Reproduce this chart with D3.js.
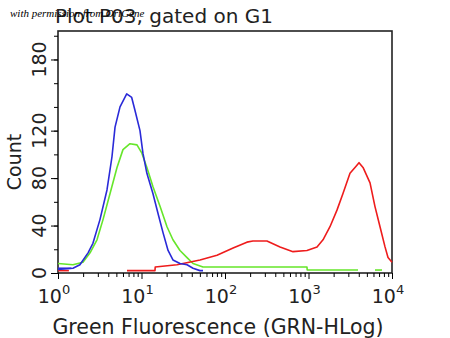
<!DOCTYPE html>
<html>
<head>
<meta charset="utf-8">
<script src="https://cdn.jsdelivr.net/npm/d3@7"></script>
<style>
  body { margin: 0; background: #fff; }
  svg { display: block; }
</style>
</head>
<body>
<div id="chart"></div>
<script>
var width = 450,
    height = 338;

// histogram traces: fluorescence value (log axis) and count
var blueX = [1, 1.51, 1.83, 2.29, 2.62, 3.18, 3.86, 4.43, 4.82, 5.53, 6.65, 7.63, 8.36, 9.59, 10.4, 11.6, 13.7, 15.8, 18.1, 20.8, 23.8, 28.9, 35.1, 41.4, 50.2, 54.5];
var blueY = [3, 4, 7, 17, 25, 45, 70, 98, 123, 140, 151, 148, 137, 120, 101, 84, 67, 50, 34, 19, 11, 8, 7, 4, 2, 2];

var greenX = [1, 1.51, 1.99, 2.42, 2.93, 3.46, 4.20, 5.09, 6.00, 7.28, 8.83, 10.1, 11.6, 13.7, 16.7, 20.2, 23.8, 28.9, 35.1, 41.4, 54.5, 87.1, 959, 965, 3917];
var greenY = [8, 7, 9, 17, 28, 45, 67, 89, 104, 109, 108, 101, 89, 73, 56, 39, 28, 19, 13, 8, 5, 5, 5, 2.5, 2.5];
var greenX2 = [6256, 7590];
var greenY2 = [2.5, 2.5];

var redX = [6.70, 14.5, 14.6, 26.6, 50.2, 80.2, 125, 183, 216, 318, 456, 652, 959, 1265, 1492, 1808, 2193, 2588, 3140, 3605, 4027, 4498, 5456, 6256, 7185, 8250, 8960, 10000];
var redY = [2, 2, 5, 7, 11, 15, 21, 26, 27, 27, 22, 18, 19, 22, 28, 39, 53, 67, 84, 89, 93, 89, 76, 56, 39, 22, 13, 9];

var redLeftX = [1, 1.35], redLeftY = [2, 2];
var blueLeftX = [1, 1.45], blueLeftY = [4, 4];

var yTickLabels = [0, 40, 80, 120, 180];
var yTicks = [0, 20, 40, 60, 80, 100, 120, 140, 160, 180, 200];
var xDecades = [1, 10, 100, 1000, 10000];
var xExponents = ["0", "1", "2", "3", "4"];

var margin = ({top: 31, right: 58, bottom: 65, left: 58});

var svg = d3.select("#chart").append("svg")
    .attr("width", width)
    .attr("height", height);

var x = d3.scaleLog()
    .domain([1, 10000])
    .range([margin.left, width - margin.right]);

var y = d3.scaleLinear()
    .domain([0, 204])
    .range([height - margin.bottom, margin.top]);

var line = d3.line()
    .x(d => x(d[0]))
    .y(d => y(d[1]));

function pairs(a, b) { return a.map((v, i) => [v, b[i]]); }

// frame
svg.append("rect")
    .attr("x", margin.left)
    .attr("y", margin.top)
    .attr("width", width - margin.left - margin.right)
    .attr("height", height - margin.top - margin.bottom)
    .attr("fill", "none")
    .attr("stroke", "#222")
    .attr("stroke-width", 1.6);

// traces
var traces = [
  [pairs(greenX, greenY), "#66e62a"],
  [pairs(greenX2, greenY2), "#66e62a"],
  [pairs(redX, redY), "#ee1c1c"],
  [pairs(redLeftX, redLeftY), "#ee1c1c"],
  [pairs(blueX, blueY), "#2a2ad8"],
  [pairs(blueLeftX, blueLeftY), "#2a2ad8"]
];
traces.forEach(t => {
  svg.append("path")
      .datum(t[0])
      .attr("fill", "none")
      .attr("stroke", t[1])
      .attr("stroke-width", 1.6)
      .attr("stroke-linejoin", "round")
      .attr("d", line);
});

// x axis ticks
var minor = [];
for (var d = 1; d < 10000; d *= 10) {
  for (var k = 2; k <= 9; k++) minor.push(d * k);
}
svg.append("g")
    .attr("transform", `translate(0,${height - margin.bottom})`)
    .call(d3.axisBottom(x).tickValues(minor).tickSize(4).tickFormat(""))
    .call(g => g.select(".domain").remove());
svg.append("g")
    .attr("transform", `translate(0,${height - margin.bottom})`)
    .call(d3.axisBottom(x).tickValues(xDecades).tickSize(6).tickFormat(""))
    .call(g => g.select(".domain").remove());

var xl = svg.append("g").attr("font-family", "DejaVu Sans").attr("fill", "#222");
xDecades.forEach((v, i) => {
  var t = xl.append("text")
      .attr("x", x(v) - 4)
      .attr("y", 303)
      .attr("text-anchor", "middle")
      .attr("font-size", "19px");
  t.append("tspan").text("10");
  t.append("tspan").attr("dy", -9).attr("font-size", "13px").text(xExponents[i]);
});

// y axis ticks
svg.append("g")
    .attr("transform", `translate(${margin.left},0)`)
    .call(d3.axisLeft(y).tickValues(yTicks).tickSize(4).tickFormat(""))
    .call(g => g.select(".domain").remove());
svg.append("g")
    .attr("transform", `translate(${margin.left},0)`)
    .call(d3.axisLeft(y).tickValues(yTickLabels).tickSize(7).tickFormat(""))
    .call(g => g.select(".domain").remove());

yTickLabels.forEach(v => {
  svg.append("text")
      .attr("transform", `translate(46,${y(v)}) rotate(-90)`)
      .attr("text-anchor", "middle")
      .attr("font-family", "DejaVu Sans")
      .attr("font-size", "19px")
      .attr("fill", "#222")
      .text(v);
});

// titles
svg.append("text")
    .attr("x", 55)
    .attr("y", 23)
    .attr("font-family", "DejaVu Sans")
    .attr("font-size", "20px")
    .attr("fill", "#222")
    .text("Plot P03, gated on G1");

svg.append("text")
    .attr("x", 10)
    .attr("y", 17)
    .attr("font-family", "Liberation Serif")
    .attr("font-style", "italic")
    .attr("font-size", "11px")
    .attr("fill", "#000")
    .text("with permission from OriGene");

svg.append("text")
    .attr("x", 218)
    .attr("y", 334)
    .attr("text-anchor", "middle")
    .attr("font-family", "DejaVu Sans")
    .attr("font-size", "20.5px")
    .attr("fill", "#222")
    .text("Green Fluorescence (GRN-HLog)");

svg.append("text")
    .attr("transform", "translate(21,162) rotate(-90)")
    .attr("text-anchor", "middle")
    .attr("font-family", "DejaVu Sans")
    .attr("font-size", "19px")
    .attr("fill", "#222")
    .text("Count");
</script>
</body>
</html>
